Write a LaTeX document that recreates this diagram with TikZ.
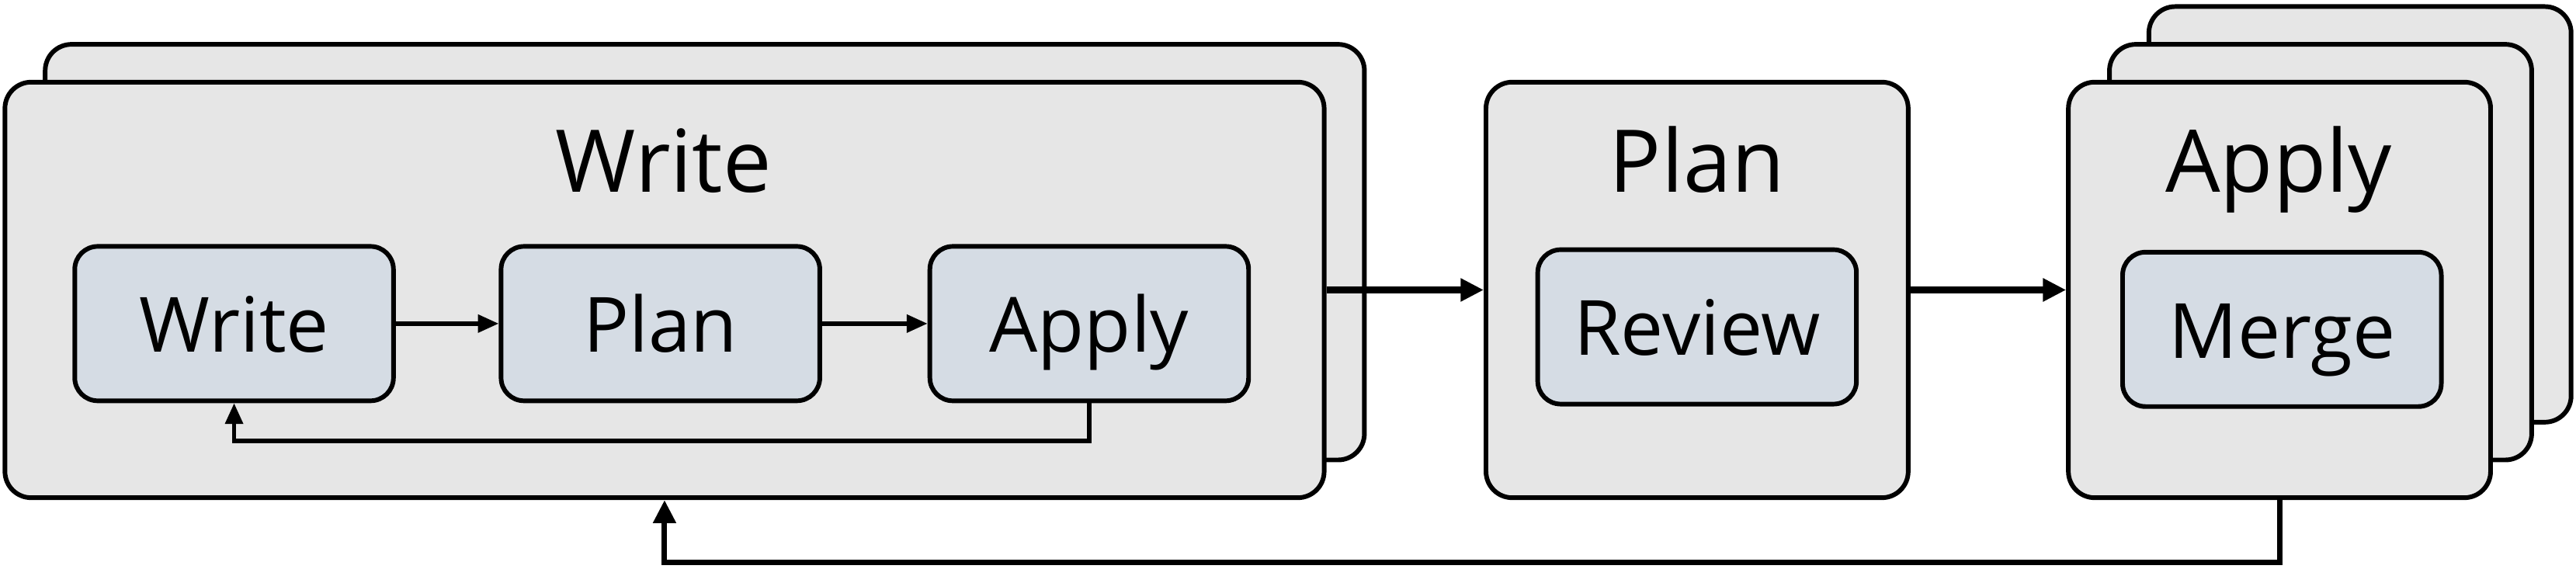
\documentclass[tikz,border=0pt]{standalone}
\usepackage{fontspec}
\setmainfont{Open Sans}
\usetikzlibrary{arrows.meta}

\definecolor{stagegray}{HTML}{E6E6E6}
\definecolor{taskblue}{HTML}{D5DCE4}

\tikzset{
	stage/.style={draw, fill=stagegray, line width=0.8pt, rounded corners=0.16cm, minimum width=8.03cm, minimum height=2.53cm, inner sep=0pt},
	smallstage/.style={stage, minimum width=2.57cm},
	task/.style={draw, fill=taskblue, line width=0.8pt, rounded corners=0.14cm, minimum width=1.94cm, minimum height=0.94cm, inner sep=0pt, text height=1.85ex, text depth=0pt, font=\fontsize{13.2}{16}\selectfont},
	title/.style={anchor=base, font=\fontsize{15}{18}\selectfont},
	flow/.style={-{Triangle[length=4pt, width=3.8pt]}, line width=1.1pt},
	innerflow/.style={-{Triangle[length=3.6pt, width=3pt]}, line width=0.75pt}
}

\begin{document}
\begin{tikzpicture}
	\useasboundingbox (0,0) rectangle (15.68,3.46);

	% write stage, two copies
	\node[stage] (writeback) at (4.29,1.925) {};
	\node[stage] (write) at (4.045,1.695) {};
	\node[title] (writetitle) at (4.04,2.29) {Write};

	\node[task] (twrite) at (1.425,1.49) {Write};
	\node[task] (tplan) at (4.02,1.49) {Plan};
	\node[task] (tapply) at (6.63,1.49) {Apply};

	\draw[innerflow] (twrite) -- (tplan);
	\draw[innerflow] (tplan) -- (tapply);
	\draw[innerflow] (tapply.south) -- ++(0,-0.23) -| (twrite.south);

	% plan stage
	\node[smallstage] (plan) at (10.33,1.695) {};
	\node[title] (plantitle) at (10.33,2.29) {Plan};
	\node[task] (treview) at (10.33,1.47) {Review};

	% apply stage, three copies
	\node[smallstage] (applyback) at (14.365,2.155) {};
	\node[smallstage] (applymid) at (14.125,1.925) {};
	\node[smallstage] (apply) at (13.875,1.695) {};
	\node[title] (applytitle) at (13.87,2.29) {Apply};
	\node[task] (tmerge) at (13.89,1.455) {Merge};

	\draw[flow] (write) -- (plan);
	\draw[flow] (plan) -- (apply);
	\draw[flow, line width=0.95pt] (apply.south) -- ++(0,-0.38) -| (write.south);
\end{tikzpicture}
\end{document}
